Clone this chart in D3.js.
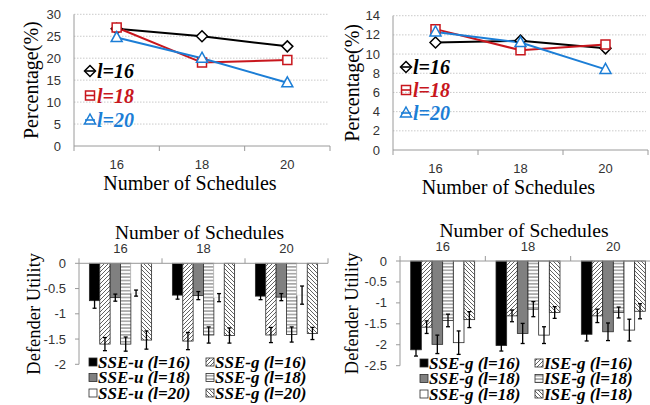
<!DOCTYPE html>
<html>
<head>
<meta charset="utf-8">
<script src="https://cdn.jsdelivr.net/npm/d3@7"></script>
<style>
  body { margin: 0; background: #fff; }
  svg { display: block; }
</style>
</head>
<body>
<svg id="chart" width="650" height="405"></svg>
<script>
'use strict'

const serifFont = 'Liberation Serif';
const sansFont = 'Liberation Sans';

// shared categories
const schedules = ['16', '18', '20'];

// line charts (top)
const lineNames = ['l=16', 'l=18', 'l=20'];
const lineColors = ['#000000', '#c8161d', '#1c7ed6'];
const lineShapes = ['diamond', 'square', 'triangle'];

const pctA16 = [26.7, 25.0, 22.7];
const pctA18 = [27.0, 19.0, 19.6];
const pctA20 = [24.7, 20.0, 14.4];
const ticksA = [0, 5, 10, 15, 20, 25, 30];

const pctB16 = [11.2, 11.4, 10.6];
const pctB18 = [12.6, 10.4, 11.0];
const pctB20 = [12.3, 11.2, 8.4];
const ticksB = [0, 2, 4, 6, 8, 10, 12, 14];

// bar charts (bottom)
const barFills = ['#000000', 'fwd', '#808080', 'hor', '#ffffff', 'back'];

const namesC = ['SSE-u (l=16)', 'SSE-g (l=16)', 'SSE-u (l=18)', 'SSE-g (l=18)', 'SSE-u (l=20)', 'SSE-g (l=20)'];
const utilC = [
  [-0.74, -0.63, -0.65],
  [-1.60, -1.54, -1.42],
  [-0.68, -0.64, -0.67],
  [-1.60, -1.42, -1.41],
  [-0.59, -0.68, -0.63],
  [-1.52, -1.43, -1.39]
];
const errC = [
  [0.15, 0.08, 0.07],
  [0.13, 0.17, 0.15],
  [0.07, 0.08, 0.07],
  [0.14, 0.16, 0.15],
  [0.06, 0.08, 0.18],
  [0.18, 0.15, 0.12]
];
const ticksC = [0, -0.5, -1, -1.5, -2];

const namesD = ['SSE-g (l=16)', 'ISE-g (l=16)', 'SSE-g (l=18)', 'ISE-g (l=18)', 'SSE-g (l=18)', 'ISE-g (l=18)'];
const utilD = [
  [-2.12, -2.02, -1.75],
  [-1.58, -1.31, -1.31],
  [-1.99, -1.73, -1.69],
  [-1.42, -1.15, -1.23],
  [-1.95, -1.77, -1.65],
  [-1.40, -1.23, -1.20]
];
const errD = [
  [0.15, 0.13, 0.16],
  [0.15, 0.14, 0.16],
  [0.22, 0.24, 0.21],
  [0.15, 0.18, 0.13],
  [0.28, 0.20, 0.26],
  [0.19, 0.14, 0.18]
];
const ticksD = [0, -0.5, -1, -1.5, -2, -2.5];

const svg = d3.select('#chart');

// hatch patterns
const defs = svg.append('defs');
function pattern(id, w, h, d) {
  const p = defs.append('pattern')
    .attr('id', id)
    .attr('patternUnits', 'userSpaceOnUse')
    .attr('width', w).attr('height', h);
  p.append('rect').attr('width', w).attr('height', h).attr('fill', '#fff');
  p.append('path').attr('d', d)
    .attr('stroke', '#3a3a3a').attr('stroke-width', 0.8).attr('fill', 'none');
}
pattern('fwd', 4, 4, 'M-1,1 L1,-1 M0,4 L4,0 M3,5 L5,3');
pattern('back', 4, 4, 'M-1,3 L1,5 M0,0 L4,4 M3,-1 L5,1');
pattern('hor', 4, 3.4, 'M0,1.7 L4,1.7');

function symbol(g, shape, cx, cy, color, withLine) {
  if (withLine) {
    g.append('line')
      .attr('x1', cx - 5).attr('x2', cx + 5)
      .attr('y1', cy).attr('y2', cy)
      .attr('stroke', color).attr('stroke-width', 1.6);
  }
  let d;
  if (shape === 'diamond') d = `M${cx},${cy-5.5} L${cx+5.5},${cy} L${cx},${cy+5.5} L${cx-5.5},${cy} Z`;
  else if (shape === 'square') d = `M${cx-4.5},${cy-4.5} h9 v9 h-9 Z`;
  else d = `M${cx},${cy-6} L${cx+5.5},${cy+4} L${cx-5.5},${cy+4} Z`;
  g.append('path').attr('d', d)
    .attr('fill', withLine ? 'none' : '#fff')
    .attr('stroke', color).attr('stroke-width', 1.5);
}

function lineChart(cfg) {
  const g = svg.append('g');
  const x = d3.scaleBand().domain(schedules).range(cfg.xr);
  const y = d3.scaleLinear().domain([0, d3.max(cfg.ticks)]).range(cfg.yr);
  const bw = x.bandwidth();

  g.selectAll('.grid').data(cfg.ticks.slice(1)).join('line')
    .attr('x1', cfg.xr[0]).attr('x2', cfg.xr[1] - 2)
    .attr('y1', d => y(d)).attr('y2', d => y(d))
    .attr('stroke', '#bdbdbd').attr('stroke-width', 0.8)
    .attr('stroke-dasharray', '1.5,1.5');

  g.append('line')
    .attr('x1', cfg.xr[0]).attr('x2', cfg.xr[0])
    .attr('y1', y(0)).attr('y2', cfg.yr[1])
    .attr('stroke', '#9a9a9a');
  g.append('line')
    .attr('x1', cfg.xr[0]).attr('x2', cfg.xr[1])
    .attr('y1', y(0)).attr('y2', y(0))
    .attr('stroke', '#9a9a9a');
  const bounds = schedules.map(c => x(c)).concat([cfg.xr[1]]);
  g.selectAll('.xt').data(bounds).join('line')
    .attr('x1', d => d).attr('x2', d => d)
    .attr('y1', y(0)).attr('y2', y(0) + 5)
    .attr('stroke', '#9a9a9a');

  g.selectAll('.yl').data(cfg.ticks).join('text')
    .attr('x', cfg.xr[0] - 13).attr('y', d => y(d))
    .attr('dy', '0.35em').attr('text-anchor', 'end')
    .attr('font-family', sansFont).attr('font-size', 13).attr('fill', '#333')
    .text(d => d);
  g.selectAll('.xl').data(schedules).join('text')
    .attr('x', d => x(d) + bw / 2).attr('y', y(0) + 18)
    .attr('dy', '0.35em').attr('text-anchor', 'middle')
    .attr('font-family', sansFont).attr('font-size', 13).attr('fill', '#333')
    .text(d => d);

  g.append('text')
    .attr('x', (cfg.xr[0] + cfg.xr[1]) / 2 - 12).attr('y', y(0) + 37)
    .attr('dy', '0.35em').attr('text-anchor', 'middle')
    .attr('font-family', serifFont).attr('font-size', 20)
    .text('Number of Schedules');
  g.append('text')
    .attr('transform', `translate(${cfg.labelX},${(cfg.yr[0] + cfg.yr[1]) / 2}) rotate(-90)`)
    .attr('dy', '0.35em').attr('text-anchor', 'middle')
    .attr('font-family', serifFont).attr('font-size', 20)
    .text('Percentage(%)');

  const line = d3.line().x((d, i) => x(schedules[i]) + bw / 2).y(d => y(d));
  cfg.series.forEach((s, k) => {
    g.append('path').attr('d', line(s))
      .attr('fill', 'none').attr('stroke', lineColors[k]).attr('stroke-width', 2);
  });
  cfg.series.forEach((s, k) => {
    s.forEach((v, i) => symbol(g, lineShapes[k], x(schedules[i]) + bw / 2, y(v), lineColors[k], false));
  });

  lineNames.forEach((n, k) => {
    const ly = cfg.legY + k * cfg.legStep;
    symbol(g, lineShapes[k], cfg.legX, ly, lineColors[k], true);
    g.append('text')
      .attr('x', cfg.legX + 7).attr('y', ly).attr('dy', '0.35em')
      .attr('font-family', serifFont).attr('font-size', 20)
      .attr('font-weight', 'bold').attr('font-style', 'italic')
      .attr('fill', lineColors[k])
      .text(n);
  });
}

function barChart(cfg) {
  const g = svg.append('g');
  const x0 = d3.scaleBand().domain(schedules).range(cfg.xr)
    .paddingInner(0.25).paddingOuter(0.125);
  const x1 = d3.scaleBand().domain(d3.range(cfg.names.length)).range([0, x0.bandwidth()]);
  const y = d3.scaleLinear().domain([d3.min(cfg.ticks), 0]).range(cfg.yr);
  const gap = (x0.step() - x0.bandwidth()) / 2;

  cfg.vals.forEach((s, k) => {
    s.forEach((v, i) => {
      const bx = x0(schedules[i]) + x1(k);
      const f = barFills[k];
      g.append('rect')
        .attr('x', bx).attr('y', y(0))
        .attr('width', x1.bandwidth()).attr('height', y(v) - y(0))
        .attr('fill', f.startsWith('#') ? f : `url(#${f})`)
        .attr('stroke', f === '#ffffff' && cfg.faintWhite ? '#e6e6e6' : '#2a2a2a')
        .attr('stroke-width', 0.8);
    });
  });
  cfg.vals.forEach((s, k) => {
    s.forEach((v, i) => {
      const cx = x0(schedules[i]) + x1(k) + x1.bandwidth() / 2;
      const e = cfg.errs[k][i];
      g.append('line')
        .attr('x1', cx).attr('x2', cx).attr('y1', y(v - e)).attr('y2', y(v + e))
        .attr('stroke', '#000').attr('stroke-width', 1.3);
      [v - e, v + e].forEach(t => g.append('line')
        .attr('x1', cx - 2).attr('x2', cx + 2).attr('y1', y(t)).attr('y2', y(t))
        .attr('stroke', '#000').attr('stroke-width', 1.3));
    });
  });

  g.append('line')
    .attr('x1', cfg.xr[0]).attr('x2', cfg.xr[0])
    .attr('y1', y(0)).attr('y2', cfg.yr[0])
    .attr('stroke', '#9a9a9a');
  g.append('line')
    .attr('x1', cfg.xr[0]).attr('x2', cfg.xr[1])
    .attr('y1', y(0)).attr('y2', y(0))
    .attr('stroke', '#9a9a9a');
  const bounds = schedules.map(c => x0(c) - gap).concat([cfg.xr[1]]);
  g.selectAll('.xt').data(bounds).join('line')
    .attr('x1', d => d).attr('x2', d => d)
    .attr('y1', y(0)).attr('y2', y(0) - 5)
    .attr('stroke', '#9a9a9a');
  g.selectAll('.yt').data(cfg.ticks).join('line')
    .attr('x1', cfg.xr[0] - 4).attr('x2', cfg.xr[0])
    .attr('y1', d => y(d)).attr('y2', d => y(d))
    .attr('stroke', '#9a9a9a');

  g.selectAll('.yl').data(cfg.ticks).join('text')
    .attr('x', cfg.xr[0] - 13).attr('y', d => y(d))
    .attr('dy', '0.35em').attr('text-anchor', 'end')
    .attr('font-family', sansFont).attr('font-size', 13).attr('fill', '#333')
    .text(d => String(d));
  g.selectAll('.xl').data(schedules).join('text')
    .attr('x', d => x0(d) + x0.bandwidth() / 2).attr('y', y(0) - 15)
    .attr('dy', '0.35em').attr('text-anchor', 'middle')
    .attr('font-family', sansFont).attr('font-size', 13).attr('fill', '#333')
    .text(d => d);
  g.append('text')
    .attr('x', (cfg.xr[0] + cfg.xr[1]) / 2 - 4).attr('y', y(0) - 31)
    .attr('dy', '0.35em').attr('text-anchor', 'middle')
    .attr('font-family', serifFont).attr('font-size', 19.5)
    .text('Number of Schedules');
  g.append('text')
    .attr('transform', `translate(${cfg.labelX},${(cfg.yr[0] + cfg.yr[1]) / 2}) rotate(-90)`)
    .attr('dy', '0.35em').attr('text-anchor', 'middle')
    .attr('font-family', serifFont).attr('font-size', 18.5)
    .text('Defender Utility');

  cfg.names.forEach((n, k) => {
    const lx = cfg.legX[k % 2];
    const ly = cfg.legY + Math.floor(k / 2) * 15.5;
    const f = barFills[k];
    g.append('rect')
      .attr('x', lx).attr('y', ly - 4).attr('width', 8).attr('height', 8)
      .attr('fill', f.startsWith('#') ? f : `url(#${f})`)
      .attr('stroke', '#2a2a2a').attr('stroke-width', 0.8);
    g.append('text')
      .attr('x', lx + 9).attr('y', ly).attr('dy', '0.35em')
      .attr('font-family', serifFont).attr('font-size', 17)
      .attr('font-weight', 'bold').attr('font-style', 'italic')
      .text(n);
  });
}

lineChart({series: [pctA16, pctA18, pctA20], ticks: ticksA,
  xr: [74, 330], yr: [146, 14.3], labelX: 31,
  legX: 90, legY: 71, legStep: 24.5});
lineChart({series: [pctB16, pctB18, pctB20], ticks: ticksB,
  xr: [393, 648], yr: [150, 15.7], labelX: 352,
  legX: 406, legY: 67, legStep: 23});

barChart({names: namesC, vals: utilC, errs: errC, ticks: ticksC,
  xr: [79, 328], yr: [364.3, 263.3], labelX: 34, faintWhite: true,
  legX: [89, 206], legY: 362});
barChart({names: namesD, vals: utilD, errs: errD, ticks: ticksD,
  xr: [400, 656], yr: [365.7, 261], labelX: 352, faintWhite: false,
  legX: [420, 535], legY: 363});
</script>
</body>
</html>
